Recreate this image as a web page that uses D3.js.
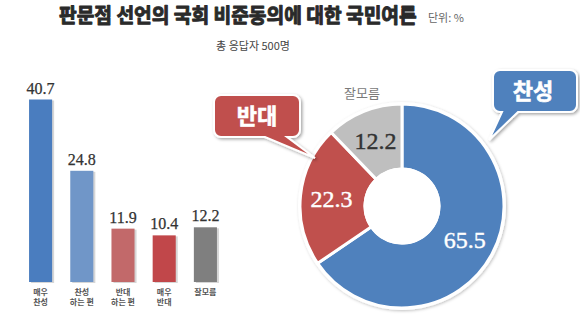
<!DOCTYPE html>
<html>
<head>
<meta charset="utf-8">
<script src="https://cdn.jsdelivr.net/npm/d3@7"></script>
<style>
  html, body { margin: 0; padding: 0; background: #fff; }
  svg { display: block; }
</style>
</head>
<body>
<svg id="chart" width="580" height="325"></svg>
<script>
// Detailed answers (bar chart)
const barCategories = [["매우", "찬성"], ["찬성", "하는 편"], ["반대", "하는 편"], ["매우", "반대"], ["잘모름"]];
const barValues = [40.7, 24.8, 11.9, 10.4, 12.2];
const barColors = ["#4a7dbf", "#7096c8", "#c2696a", "#c1474a", "#7f7f7f"];

// Grouped answers (donut)
const pieCategories = ["찬성", "반대", "잘모름"];
const pieValues = [65.5, 22.3, 12.2];
const pieColors = ["#4f81bd", "#c0504d", "#bfbfbf"];

const titleText = "판문점 선언의 국회 비준동의에 대한 국민여론";
const unitText = "단위: %";
const subtitleText = "총 응답자 500명";

const svg = d3.select("#chart");
const KR = "'Noto Sans CJK KR', 'Noto Sans', sans-serif";
const SERIF = "'Liberation Serif', 'DejaVu Serif', serif";

// Shadow filters for callouts and donut
const defs = svg.append("defs");
const sh = defs.append("filter").attr("id", "shadow").attr("x", "-20%").attr("y", "-20%").attr("width", "140%").attr("height", "140%");
sh.append("feDropShadow").attr("dx", 1.5).attr("dy", 1.5).attr("stdDeviation", 1.5).attr("flood-color", "#000").attr("flood-opacity", 0.35);
const sh2 = defs.append("filter").attr("id", "softshadow").attr("x", "-10%").attr("y", "-10%").attr("width", "120%").attr("height", "120%");
sh2.append("feDropShadow").attr("dx", 1).attr("dy", 1).attr("stdDeviation", 1.5).attr("flood-color", "#000").attr("flood-opacity", 0.25);

// Title: heavy, horizontally condensed to fit its span
const title = svg.append("text")
  .attr("font-family", KR).attr("font-weight", 700).attr("font-size", 20.5)
  .attr("fill", "#2a2a2a").attr("stroke", "#2a2a2a").attr("stroke-width", 1)
  .attr("stroke-linejoin", "round")
  .text(titleText);
const titleW = title.node().getComputedTextLength();
title.attr("transform", `translate(59,23) scale(${358 / titleW},1)`);
svg.append("text")
  .attr("x", 428).attr("y", 22)
  .attr("font-family", KR).attr("font-size", 11).attr("fill", "#666").text(unitText);
svg.append("text")
  .attr("x", 253).attr("y", 50).attr("text-anchor", "middle")
  .attr("font-family", KR).attr("font-size", 11).attr("fill", "#444").text(subtitleText);

// ---- Bar chart ----
const barBottom = 282;
const x = d3.scaleBand().domain(d3.range(barValues.length)).range([20, 226]).paddingInner(0.44).paddingOuter(0.22);
const y = d3.scaleLinear().domain([0, 40.7]).range([barBottom, 99.5]);

const bars = svg.append("g");
bars.selectAll("rect.sh").data(barValues).join("rect")
  .attr("class", "sh")
  .attr("x", (d, i) => x(i) + 2).attr("y", d => y(d) + 1)
  .attr("width", x.bandwidth()).attr("height", d => barBottom - y(d))
  .attr("fill", "#d6d6d6");
bars.selectAll("rect.bar").data(barValues).join("rect")
  .attr("class", "bar")
  .attr("x", (d, i) => x(i)).attr("y", d => y(d))
  .attr("width", x.bandwidth()).attr("height", d => barBottom - y(d))
  .attr("fill", (d, i) => barColors[i]);
bars.selectAll("text.val").data(barValues).join("text")
  .attr("class", "val")
  .attr("x", (d, i) => x(i) + x.bandwidth() / 2).attr("y", d => y(d) - 6)
  .attr("text-anchor", "middle")
  .attr("font-family", SERIF).attr("font-size", 16).attr("fill", "#333")
  .attr("stroke", "#333").attr("stroke-width", 0.25)
  .text(d => d.toFixed(1));
const catG = bars.selectAll("text.cat").data(barCategories).join("text")
  .attr("class", "cat")
  .attr("text-anchor", "middle")
  .attr("font-family", KR).attr("font-size", 8).attr("font-weight", 700).attr("fill", "#555");
catG.selectAll("tspan").data((d, i) => d.map(t => ({ t, i }))).join("tspan")
  .attr("x", d => x(d.i) + x.bandwidth() / 2)
  .attr("y", (d, j) => 295 + j * 10)
  .text(d => d.t);

// ---- Donut ----
const cx = 402, cy = 206, rOuter = 102, rInner = 37;
const pie = d3.pie().sort(null).value(d => d);
const arcs = pie(pieValues);
const arc = d3.arc().innerRadius(rInner).outerRadius(rOuter);
const labelArc = d3.arc().innerRadius(rInner + 34).outerRadius(rInner + 34);

const donut = svg.append("g").attr("transform", `translate(${cx},${cy})`);
donut.append("circle").attr("r", rOuter + 2).attr("fill", "#fff").attr("filter", "url(#softshadow)");
donut.selectAll("path").data(arcs).join("path")
  .attr("d", arc)
  .attr("fill", (d, i) => pieColors[i])
  .attr("stroke", "#fff").attr("stroke-width", 3).attr("stroke-linejoin", "round");
donut.append("circle").attr("r", rInner).attr("fill", "none").attr("stroke", "#fff").attr("stroke-width", 3);
donut.selectAll("text.pv").data(arcs).join("text")
  .attr("class", "pv")
  .attr("transform", d => { const c = labelArc.centroid(d); return `translate(${c[0]},${c[1]})`; })
  .attr("text-anchor", "middle").attr("dy", "0.35em")
  .attr("font-family", SERIF).attr("font-size", 24)
  .attr("fill", (d, i) => i === 2 ? "#333" : "#fff")
  .attr("stroke", (d, i) => i === 2 ? "#333" : "#fff").attr("stroke-width", 0.4)
  .text(d => d.data.toFixed(1));

// "잘모름" label above its slice
svg.append("text")
  .attr("x", 362).attr("y", 98).attr("text-anchor", "middle")
  .attr("font-family", KR).attr("font-size", 13).attr("fill", "#7a7a7a").text(pieCategories[2]);

// Callout boxes with pointers
function callout(x0, y0, w, h, r, tailA, tailB, tip) {
  const p = d3.path();
  p.moveTo(x0 + r, y0);
  p.lineTo(x0 + w - r, y0);
  p.arcTo(x0 + w, y0, x0 + w, y0 + r, r);
  p.lineTo(x0 + w, y0 + h - r);
  p.arcTo(x0 + w, y0 + h, x0 + w - r, y0 + h, r);
  p.lineTo(tailB, y0 + h);
  p.lineTo(tip[0], tip[1]);
  p.lineTo(tailA, y0 + h);
  p.lineTo(x0 + r, y0 + h);
  p.arcTo(x0, y0 + h, x0, y0 + h - r, r);
  p.lineTo(x0, y0 + r);
  p.arcTo(x0, y0, x0 + r, y0, r);
  p.closePath();
  return p.toString();
}
function drawCallout(label, color, box, tailA, tailB, tip, tx, ty) {
  svg.append("path")
    .attr("d", callout(box[0], box[1], box[2], box[3], 7, tailA, tailB, tip))
    .attr("fill", color).attr("stroke", "#fff").attr("stroke-width", 2)
    .attr("filter", "url(#shadow)");
  svg.append("text")
    .attr("x", tx).attr("y", ty).attr("text-anchor", "middle")
    .attr("font-family", KR).attr("font-weight", 700).attr("font-size", 22)
    .attr("fill", "#fff").attr("stroke", "#fff").attr("stroke-width", 0.6)
    .text(label);
}
drawCallout(pieCategories[1], pieColors[1], [214, 95, 86, 42], 265, 287, [315, 158], 257, 124);
drawCallout(pieCategories[0], pieColors[0], [493, 70, 84, 42], 502, 518, [489, 140], 533, 99);
</script>
</body>
</html>
